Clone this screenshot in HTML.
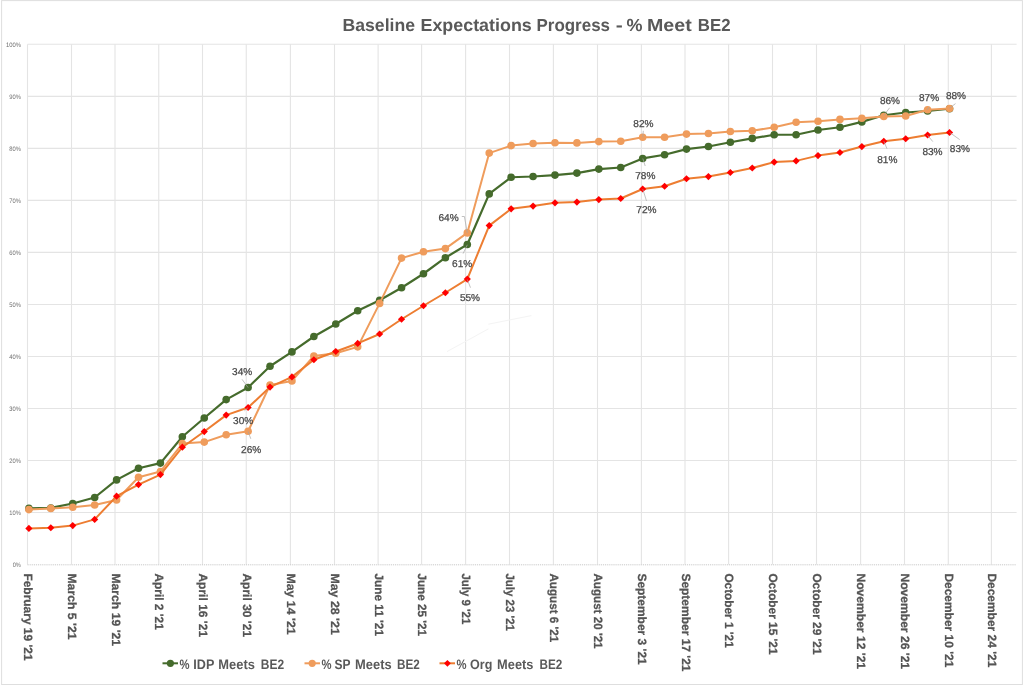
<!DOCTYPE html>
<html lang="en"><head><meta charset="utf-8"><title>Baseline Expectations Progress - % Meet BE2</title>
<style>html,body{margin:0;padding:0;background:#fff;}svg{display:block;}</style></head>
<body>
<svg width="1024" height="687" viewBox="0 0 1024 687" text-rendering="geometricPrecision">
<rect x="0" y="0" width="1024" height="687" fill="#fff"/>
<rect x="1.6" y="0.6" width="1020.8" height="683.9" fill="#fff" stroke="#dedede" stroke-width="1"/>
<line x1="27.5" y1="512.57" x2="1016.6" y2="512.57" stroke="#e4e4e4" stroke-width="1.1"/>
<line x1="27.5" y1="460.54" x2="1016.6" y2="460.54" stroke="#e4e4e4" stroke-width="1.1"/>
<line x1="27.5" y1="408.51" x2="1016.6" y2="408.51" stroke="#e4e4e4" stroke-width="1.1"/>
<line x1="27.5" y1="356.48" x2="1016.6" y2="356.48" stroke="#e4e4e4" stroke-width="1.1"/>
<line x1="27.5" y1="304.45" x2="1016.6" y2="304.45" stroke="#e4e4e4" stroke-width="1.1"/>
<line x1="27.5" y1="252.42" x2="1016.6" y2="252.42" stroke="#e4e4e4" stroke-width="1.1"/>
<line x1="27.5" y1="200.39" x2="1016.6" y2="200.39" stroke="#e4e4e4" stroke-width="1.1"/>
<line x1="27.5" y1="148.36" x2="1016.6" y2="148.36" stroke="#e4e4e4" stroke-width="1.1"/>
<line x1="27.5" y1="96.33" x2="1016.6" y2="96.33" stroke="#e4e4e4" stroke-width="1.1"/>
<line x1="27.5" y1="44.30" x2="1016.6" y2="44.30" stroke="#e4e4e4" stroke-width="1.1"/>
<line x1="27.50" y1="44.3" x2="27.50" y2="564.6" stroke="#e4e4e4" stroke-width="1.1"/>
<line x1="71.50" y1="44.3" x2="71.50" y2="564.6" stroke="#e4e4e4" stroke-width="1.1"/>
<line x1="115.00" y1="44.3" x2="115.00" y2="564.6" stroke="#e4e4e4" stroke-width="1.1"/>
<line x1="158.75" y1="44.3" x2="158.75" y2="564.6" stroke="#e4e4e4" stroke-width="1.1"/>
<line x1="202.50" y1="44.3" x2="202.50" y2="564.6" stroke="#e4e4e4" stroke-width="1.1"/>
<line x1="246.25" y1="44.3" x2="246.25" y2="564.6" stroke="#e4e4e4" stroke-width="1.1"/>
<line x1="290.40" y1="44.3" x2="290.40" y2="564.6" stroke="#e4e4e4" stroke-width="1.1"/>
<line x1="334.50" y1="44.3" x2="334.50" y2="564.6" stroke="#e4e4e4" stroke-width="1.1"/>
<line x1="378.10" y1="44.3" x2="378.10" y2="564.6" stroke="#e4e4e4" stroke-width="1.1"/>
<line x1="421.60" y1="44.3" x2="421.60" y2="564.6" stroke="#e4e4e4" stroke-width="1.1"/>
<line x1="465.60" y1="44.3" x2="465.60" y2="564.6" stroke="#e4e4e4" stroke-width="1.1"/>
<line x1="509.50" y1="44.3" x2="509.50" y2="564.6" stroke="#e4e4e4" stroke-width="1.1"/>
<line x1="553.40" y1="44.3" x2="553.40" y2="564.6" stroke="#e4e4e4" stroke-width="1.1"/>
<line x1="597.50" y1="44.3" x2="597.50" y2="564.6" stroke="#e4e4e4" stroke-width="1.1"/>
<line x1="641.40" y1="44.3" x2="641.40" y2="564.6" stroke="#e4e4e4" stroke-width="1.1"/>
<line x1="685.00" y1="44.3" x2="685.00" y2="564.6" stroke="#e4e4e4" stroke-width="1.1"/>
<line x1="728.60" y1="44.3" x2="728.60" y2="564.6" stroke="#e4e4e4" stroke-width="1.1"/>
<line x1="772.50" y1="44.3" x2="772.50" y2="564.6" stroke="#e4e4e4" stroke-width="1.1"/>
<line x1="816.50" y1="44.3" x2="816.50" y2="564.6" stroke="#e4e4e4" stroke-width="1.1"/>
<line x1="860.60" y1="44.3" x2="860.60" y2="564.6" stroke="#e4e4e4" stroke-width="1.1"/>
<line x1="904.50" y1="44.3" x2="904.50" y2="564.6" stroke="#e4e4e4" stroke-width="1.1"/>
<line x1="948.30" y1="44.3" x2="948.30" y2="564.6" stroke="#e4e4e4" stroke-width="1.1"/>
<line x1="991.40" y1="44.3" x2="991.40" y2="564.6" stroke="#e4e4e4" stroke-width="1.1"/>
<line x1="27.5" y1="564.8" x2="1016.6" y2="564.8" stroke="#c4c4c4" stroke-width="0.9" stroke-dasharray="1.2 0.9"/>
<path d="M447 351.6 L488.4 328.9 M488.4 324.2 L531.4 315.6" stroke="#f4f4f4" stroke-width="1" fill="none"/>
<text x="20.9" y="566.90" text-anchor="end" font-family="Liberation Sans, Arial, sans-serif" font-size="6.4" fill="#6e6e6e" textLength="8.2" lengthAdjust="spacingAndGlyphs">0%</text>
<text x="20.9" y="514.87" text-anchor="end" font-family="Liberation Sans, Arial, sans-serif" font-size="6.4" fill="#6e6e6e" textLength="11.6" lengthAdjust="spacingAndGlyphs">10%</text>
<text x="20.9" y="462.84" text-anchor="end" font-family="Liberation Sans, Arial, sans-serif" font-size="6.4" fill="#6e6e6e" textLength="11.6" lengthAdjust="spacingAndGlyphs">20%</text>
<text x="20.9" y="410.81" text-anchor="end" font-family="Liberation Sans, Arial, sans-serif" font-size="6.4" fill="#6e6e6e" textLength="11.6" lengthAdjust="spacingAndGlyphs">30%</text>
<text x="20.9" y="358.78" text-anchor="end" font-family="Liberation Sans, Arial, sans-serif" font-size="6.4" fill="#6e6e6e" textLength="11.6" lengthAdjust="spacingAndGlyphs">40%</text>
<text x="20.9" y="306.75" text-anchor="end" font-family="Liberation Sans, Arial, sans-serif" font-size="6.4" fill="#6e6e6e" textLength="11.6" lengthAdjust="spacingAndGlyphs">50%</text>
<text x="20.9" y="254.72" text-anchor="end" font-family="Liberation Sans, Arial, sans-serif" font-size="6.4" fill="#6e6e6e" textLength="11.6" lengthAdjust="spacingAndGlyphs">60%</text>
<text x="20.9" y="202.69" text-anchor="end" font-family="Liberation Sans, Arial, sans-serif" font-size="6.4" fill="#6e6e6e" textLength="11.6" lengthAdjust="spacingAndGlyphs">70%</text>
<text x="20.9" y="150.66" text-anchor="end" font-family="Liberation Sans, Arial, sans-serif" font-size="6.4" fill="#6e6e6e" textLength="11.6" lengthAdjust="spacingAndGlyphs">80%</text>
<text x="20.9" y="98.63" text-anchor="end" font-family="Liberation Sans, Arial, sans-serif" font-size="6.4" fill="#6e6e6e" textLength="11.6" lengthAdjust="spacingAndGlyphs">90%</text>
<text x="20.9" y="46.60" text-anchor="end" font-family="Liberation Sans, Arial, sans-serif" font-size="6.4" fill="#6e6e6e" textLength="15" lengthAdjust="spacingAndGlyphs">100%</text>
<text transform="translate(24.00,573.4) rotate(90)" font-family="Liberation Sans, Arial, sans-serif" font-weight="bold" font-size="12" fill="#545454" stroke="#545454" stroke-width="0.25" textLength="87.2" lengthAdjust="spacingAndGlyphs">February 19 '21</text>
<text transform="translate(68.00,573.4) rotate(90)" font-family="Liberation Sans, Arial, sans-serif" font-weight="bold" font-size="12" fill="#545454" stroke="#545454" stroke-width="0.25" textLength="66.1" lengthAdjust="spacingAndGlyphs">March 5 '21</text>
<text transform="translate(111.50,573.4) rotate(90)" font-family="Liberation Sans, Arial, sans-serif" font-weight="bold" font-size="12" fill="#545454" stroke="#545454" stroke-width="0.25" textLength="72.7" lengthAdjust="spacingAndGlyphs">March 19 '21</text>
<text transform="translate(155.25,573.4) rotate(90)" font-family="Liberation Sans, Arial, sans-serif" font-weight="bold" font-size="12" fill="#545454" stroke="#545454" stroke-width="0.25" textLength="56.4" lengthAdjust="spacingAndGlyphs">April 2 '21</text>
<text transform="translate(199.00,573.4) rotate(90)" font-family="Liberation Sans, Arial, sans-serif" font-weight="bold" font-size="12" fill="#545454" stroke="#545454" stroke-width="0.25" textLength="63.7" lengthAdjust="spacingAndGlyphs">April 16 '21</text>
<text transform="translate(242.75,573.4) rotate(90)" font-family="Liberation Sans, Arial, sans-serif" font-weight="bold" font-size="12" fill="#545454" stroke="#545454" stroke-width="0.25" textLength="63.7" lengthAdjust="spacingAndGlyphs">April 30 '21</text>
<text transform="translate(286.90,573.4) rotate(90)" font-family="Liberation Sans, Arial, sans-serif" font-weight="bold" font-size="12" fill="#545454" stroke="#545454" stroke-width="0.25" textLength="61.3" lengthAdjust="spacingAndGlyphs">May 14 '21</text>
<text transform="translate(331.00,573.4) rotate(90)" font-family="Liberation Sans, Arial, sans-serif" font-weight="bold" font-size="12" fill="#545454" stroke="#545454" stroke-width="0.25" textLength="61.4" lengthAdjust="spacingAndGlyphs">May 28 '21</text>
<text transform="translate(374.60,573.4) rotate(90)" font-family="Liberation Sans, Arial, sans-serif" font-weight="bold" font-size="12" fill="#545454" stroke="#545454" stroke-width="0.25" textLength="62.6" lengthAdjust="spacingAndGlyphs">June 11 '21</text>
<text transform="translate(418.10,573.4) rotate(90)" font-family="Liberation Sans, Arial, sans-serif" font-weight="bold" font-size="12" fill="#545454" stroke="#545454" stroke-width="0.25" textLength="62.6" lengthAdjust="spacingAndGlyphs">June 25 '21</text>
<text transform="translate(462.10,573.4) rotate(90)" font-family="Liberation Sans, Arial, sans-serif" font-weight="bold" font-size="12" fill="#545454" stroke="#545454" stroke-width="0.25" textLength="50.9" lengthAdjust="spacingAndGlyphs">July 9 '21</text>
<text transform="translate(506.00,573.4) rotate(90)" font-family="Liberation Sans, Arial, sans-serif" font-weight="bold" font-size="12" fill="#545454" stroke="#545454" stroke-width="0.25" textLength="57.6" lengthAdjust="spacingAndGlyphs">July 23 '21</text>
<text transform="translate(549.90,573.4) rotate(90)" font-family="Liberation Sans, Arial, sans-serif" font-weight="bold" font-size="12" fill="#545454" stroke="#545454" stroke-width="0.25" textLength="68.8" lengthAdjust="spacingAndGlyphs">August 6 '21</text>
<text transform="translate(594.00,573.4) rotate(90)" font-family="Liberation Sans, Arial, sans-serif" font-weight="bold" font-size="12" fill="#545454" stroke="#545454" stroke-width="0.25" textLength="75.2" lengthAdjust="spacingAndGlyphs">August 20 '21</text>
<text transform="translate(637.90,573.4) rotate(90)" font-family="Liberation Sans, Arial, sans-serif" font-weight="bold" font-size="12" fill="#545454" stroke="#545454" stroke-width="0.25" textLength="91.3" lengthAdjust="spacingAndGlyphs">September 3 '21</text>
<text transform="translate(681.50,573.4) rotate(90)" font-family="Liberation Sans, Arial, sans-serif" font-weight="bold" font-size="12" fill="#545454" stroke="#545454" stroke-width="0.25" textLength="98.1" lengthAdjust="spacingAndGlyphs">September 17 '21</text>
<text transform="translate(725.10,573.4) rotate(90)" font-family="Liberation Sans, Arial, sans-serif" font-weight="bold" font-size="12" fill="#545454" stroke="#545454" stroke-width="0.25" textLength="74.3" lengthAdjust="spacingAndGlyphs">October 1 '21</text>
<text transform="translate(769.00,573.4) rotate(90)" font-family="Liberation Sans, Arial, sans-serif" font-weight="bold" font-size="12" fill="#545454" stroke="#545454" stroke-width="0.25" textLength="81.1" lengthAdjust="spacingAndGlyphs">October 15 '21</text>
<text transform="translate(813.00,573.4) rotate(90)" font-family="Liberation Sans, Arial, sans-serif" font-weight="bold" font-size="12" fill="#545454" stroke="#545454" stroke-width="0.25" textLength="81.1" lengthAdjust="spacingAndGlyphs">October 29 '21</text>
<text transform="translate(857.10,573.4) rotate(90)" font-family="Liberation Sans, Arial, sans-serif" font-weight="bold" font-size="12" fill="#545454" stroke="#545454" stroke-width="0.25" textLength="95.7" lengthAdjust="spacingAndGlyphs">November 12 '21</text>
<text transform="translate(901.00,573.4) rotate(90)" font-family="Liberation Sans, Arial, sans-serif" font-weight="bold" font-size="12" fill="#545454" stroke="#545454" stroke-width="0.25" textLength="95.7" lengthAdjust="spacingAndGlyphs">November 26 '21</text>
<text transform="translate(944.80,573.4) rotate(90)" font-family="Liberation Sans, Arial, sans-serif" font-weight="bold" font-size="12" fill="#545454" stroke="#545454" stroke-width="0.25" textLength="93.9" lengthAdjust="spacingAndGlyphs">December 10 '21</text>
<text transform="translate(987.90,573.4) rotate(90)" font-family="Liberation Sans, Arial, sans-serif" font-weight="bold" font-size="12" fill="#545454" stroke="#545454" stroke-width="0.25" textLength="93.9" lengthAdjust="spacingAndGlyphs">December 24 '21</text>
<text y="30.75" font-family="Liberation Sans, Arial, sans-serif" font-weight="bold" font-size="17.5" fill="#595959"><tspan x="342.5" textLength="72.5" lengthAdjust="spacingAndGlyphs">Baseline</tspan> <tspan x="420.5" textLength="111.25" lengthAdjust="spacingAndGlyphs">Expectations</tspan> <tspan x="536.5" textLength="73.5" lengthAdjust="spacingAndGlyphs">Progress</tspan> <tspan x="615.8" textLength="7.0" lengthAdjust="spacingAndGlyphs">-</tspan> <tspan x="626.5" textLength="16" lengthAdjust="spacingAndGlyphs">%</tspan> <tspan x="647.0" textLength="44.75" lengthAdjust="spacingAndGlyphs">Meet</tspan> <tspan x="697.8" textLength="32.700000000000045" lengthAdjust="spacingAndGlyphs">BE2</tspan></text>
<polyline points="28.90,508.40 50.82,507.95 72.74,503.50 94.66,497.50 116.58,479.90 138.50,468.30 160.42,463.10 182.34,436.75 204.26,418.00 226.18,399.60 248.10,387.50 270.02,366.25 291.94,351.90 313.86,336.50 335.78,324.05 357.70,310.80 379.62,300.30 401.54,287.75 423.46,273.75 445.38,257.70 467.30,244.45 489.22,193.90 511.14,177.25 533.06,176.50 554.98,175.10 576.90,173.10 598.82,169.10 620.74,167.50 642.66,158.45 664.58,154.75 686.50,149.10 708.42,146.50 730.34,142.25 752.26,138.40 774.18,134.75 796.10,134.75 818.02,130.00 839.94,127.25 861.86,121.90 883.78,115.25 905.70,112.50 927.62,111.00 949.54,108.75" fill="none" stroke="#456b2c" stroke-width="2.2" stroke-linejoin="round" stroke-linecap="round"/>
<circle cx="28.90" cy="508.40" r="3.8" fill="#456b2c"/><circle cx="50.82" cy="507.95" r="3.8" fill="#456b2c"/><circle cx="72.74" cy="503.50" r="3.8" fill="#456b2c"/><circle cx="94.66" cy="497.50" r="3.8" fill="#456b2c"/><circle cx="116.58" cy="479.90" r="3.8" fill="#456b2c"/><circle cx="138.50" cy="468.30" r="3.8" fill="#456b2c"/><circle cx="160.42" cy="463.10" r="3.8" fill="#456b2c"/><circle cx="182.34" cy="436.75" r="3.8" fill="#456b2c"/><circle cx="204.26" cy="418.00" r="3.8" fill="#456b2c"/><circle cx="226.18" cy="399.60" r="3.8" fill="#456b2c"/><circle cx="248.10" cy="387.50" r="3.8" fill="#456b2c"/><circle cx="270.02" cy="366.25" r="3.8" fill="#456b2c"/><circle cx="291.94" cy="351.90" r="3.8" fill="#456b2c"/><circle cx="313.86" cy="336.50" r="3.8" fill="#456b2c"/><circle cx="335.78" cy="324.05" r="3.8" fill="#456b2c"/><circle cx="357.70" cy="310.80" r="3.8" fill="#456b2c"/><circle cx="379.62" cy="300.30" r="3.8" fill="#456b2c"/><circle cx="401.54" cy="287.75" r="3.8" fill="#456b2c"/><circle cx="423.46" cy="273.75" r="3.8" fill="#456b2c"/><circle cx="445.38" cy="257.70" r="3.8" fill="#456b2c"/><circle cx="467.30" cy="244.45" r="3.8" fill="#456b2c"/><circle cx="489.22" cy="193.90" r="3.8" fill="#456b2c"/><circle cx="511.14" cy="177.25" r="3.8" fill="#456b2c"/><circle cx="533.06" cy="176.50" r="3.8" fill="#456b2c"/><circle cx="554.98" cy="175.10" r="3.8" fill="#456b2c"/><circle cx="576.90" cy="173.10" r="3.8" fill="#456b2c"/><circle cx="598.82" cy="169.10" r="3.8" fill="#456b2c"/><circle cx="620.74" cy="167.50" r="3.8" fill="#456b2c"/><circle cx="642.66" cy="158.45" r="3.8" fill="#456b2c"/><circle cx="664.58" cy="154.75" r="3.8" fill="#456b2c"/><circle cx="686.50" cy="149.10" r="3.8" fill="#456b2c"/><circle cx="708.42" cy="146.50" r="3.8" fill="#456b2c"/><circle cx="730.34" cy="142.25" r="3.8" fill="#456b2c"/><circle cx="752.26" cy="138.40" r="3.8" fill="#456b2c"/><circle cx="774.18" cy="134.75" r="3.8" fill="#456b2c"/><circle cx="796.10" cy="134.75" r="3.8" fill="#456b2c"/><circle cx="818.02" cy="130.00" r="3.8" fill="#456b2c"/><circle cx="839.94" cy="127.25" r="3.8" fill="#456b2c"/><circle cx="861.86" cy="121.90" r="3.8" fill="#456b2c"/><circle cx="883.78" cy="115.25" r="3.8" fill="#456b2c"/><circle cx="905.70" cy="112.50" r="3.8" fill="#456b2c"/><circle cx="927.62" cy="111.00" r="3.8" fill="#456b2c"/><circle cx="949.54" cy="108.75" r="3.8" fill="#456b2c"/>
<polyline points="28.90,509.60 50.82,508.40 72.74,507.25 94.66,505.00 116.58,500.00 138.50,477.20 160.42,471.50 182.34,443.60 204.26,442.10 226.18,434.75 248.10,431.25 270.02,385.00 291.94,380.90 313.86,356.00 335.78,353.20 357.70,346.85 379.62,303.40 401.54,258.10 423.46,251.75 445.38,248.60 467.30,232.90 489.22,153.10 511.14,145.60 533.06,143.50 554.98,142.75 576.90,142.90 598.82,141.60 620.74,141.25 642.66,137.25 664.58,137.25 686.50,134.10 708.42,133.50 730.34,131.50 752.26,130.75 774.18,127.25 796.10,122.25 818.02,121.25 839.94,119.40 861.86,118.25 883.78,116.50 905.70,116.00 927.62,109.75 949.54,108.50" fill="none" stroke="#ef9c5c" stroke-width="2.0" stroke-linejoin="round" stroke-linecap="round"/>
<circle cx="28.90" cy="509.60" r="3.8" fill="#ef9c5c"/><circle cx="50.82" cy="508.40" r="3.8" fill="#ef9c5c"/><circle cx="72.74" cy="507.25" r="3.8" fill="#ef9c5c"/><circle cx="94.66" cy="505.00" r="3.8" fill="#ef9c5c"/><circle cx="116.58" cy="500.00" r="3.8" fill="#ef9c5c"/><circle cx="138.50" cy="477.20" r="3.8" fill="#ef9c5c"/><circle cx="160.42" cy="471.50" r="3.8" fill="#ef9c5c"/><circle cx="182.34" cy="443.60" r="3.8" fill="#ef9c5c"/><circle cx="204.26" cy="442.10" r="3.8" fill="#ef9c5c"/><circle cx="226.18" cy="434.75" r="3.8" fill="#ef9c5c"/><circle cx="248.10" cy="431.25" r="3.8" fill="#ef9c5c"/><circle cx="270.02" cy="385.00" r="3.8" fill="#ef9c5c"/><circle cx="291.94" cy="380.90" r="3.8" fill="#ef9c5c"/><circle cx="313.86" cy="356.00" r="3.8" fill="#ef9c5c"/><circle cx="335.78" cy="353.20" r="3.8" fill="#ef9c5c"/><circle cx="357.70" cy="346.85" r="3.8" fill="#ef9c5c"/><circle cx="379.62" cy="303.40" r="3.8" fill="#ef9c5c"/><circle cx="401.54" cy="258.10" r="3.8" fill="#ef9c5c"/><circle cx="423.46" cy="251.75" r="3.8" fill="#ef9c5c"/><circle cx="445.38" cy="248.60" r="3.8" fill="#ef9c5c"/><circle cx="467.30" cy="232.90" r="3.8" fill="#ef9c5c"/><circle cx="489.22" cy="153.10" r="3.8" fill="#ef9c5c"/><circle cx="511.14" cy="145.60" r="3.8" fill="#ef9c5c"/><circle cx="533.06" cy="143.50" r="3.8" fill="#ef9c5c"/><circle cx="554.98" cy="142.75" r="3.8" fill="#ef9c5c"/><circle cx="576.90" cy="142.90" r="3.8" fill="#ef9c5c"/><circle cx="598.82" cy="141.60" r="3.8" fill="#ef9c5c"/><circle cx="620.74" cy="141.25" r="3.8" fill="#ef9c5c"/><circle cx="642.66" cy="137.25" r="3.8" fill="#ef9c5c"/><circle cx="664.58" cy="137.25" r="3.8" fill="#ef9c5c"/><circle cx="686.50" cy="134.10" r="3.8" fill="#ef9c5c"/><circle cx="708.42" cy="133.50" r="3.8" fill="#ef9c5c"/><circle cx="730.34" cy="131.50" r="3.8" fill="#ef9c5c"/><circle cx="752.26" cy="130.75" r="3.8" fill="#ef9c5c"/><circle cx="774.18" cy="127.25" r="3.8" fill="#ef9c5c"/><circle cx="796.10" cy="122.25" r="3.8" fill="#ef9c5c"/><circle cx="818.02" cy="121.25" r="3.8" fill="#ef9c5c"/><circle cx="839.94" cy="119.40" r="3.8" fill="#ef9c5c"/><circle cx="861.86" cy="118.25" r="3.8" fill="#ef9c5c"/><circle cx="883.78" cy="116.50" r="3.8" fill="#ef9c5c"/><circle cx="905.70" cy="116.00" r="3.8" fill="#ef9c5c"/><circle cx="927.62" cy="109.75" r="3.8" fill="#ef9c5c"/><circle cx="949.54" cy="108.50" r="3.8" fill="#ef9c5c"/>
<polyline points="28.90,528.40 50.82,527.75 72.74,525.60 94.66,519.40 116.58,496.20 138.50,484.60 160.42,474.60 182.34,447.20 204.26,431.55 226.18,415.10 248.10,407.50 270.02,387.10 291.94,376.90 313.86,359.75 335.78,351.50 357.70,343.45 379.62,334.00 401.54,319.25 423.46,305.75 445.38,292.75 467.30,279.10 489.22,225.60 511.14,208.80 533.06,206.10 554.98,202.80 576.90,202.10 598.82,199.60 620.74,198.50 642.66,189.00 664.58,186.25 686.50,178.75 708.42,176.60 730.34,172.50 752.26,168.00 774.18,162.10 796.10,160.90 818.02,155.60 839.94,152.50 861.86,146.55 883.78,141.25 905.70,138.75 927.62,135.00 949.54,132.50" fill="none" stroke="#ed7d31" stroke-width="2.0" stroke-linejoin="round" stroke-linecap="round"/>
<path d="M25.30 528.40 L28.90 524.80 L32.50 528.40 L28.90 532.00 Z" fill="#ff0000"/><path d="M47.22 527.75 L50.82 524.15 L54.42 527.75 L50.82 531.35 Z" fill="#ff0000"/><path d="M69.14 525.60 L72.74 522.00 L76.34 525.60 L72.74 529.20 Z" fill="#ff0000"/><path d="M91.06 519.40 L94.66 515.80 L98.26 519.40 L94.66 523.00 Z" fill="#ff0000"/><path d="M112.98 496.20 L116.58 492.60 L120.18 496.20 L116.58 499.80 Z" fill="#ff0000"/><path d="M134.90 484.60 L138.50 481.00 L142.10 484.60 L138.50 488.20 Z" fill="#ff0000"/><path d="M156.82 474.60 L160.42 471.00 L164.02 474.60 L160.42 478.20 Z" fill="#ff0000"/><path d="M178.74 447.20 L182.34 443.60 L185.94 447.20 L182.34 450.80 Z" fill="#ff0000"/><path d="M200.66 431.55 L204.26 427.95 L207.86 431.55 L204.26 435.15 Z" fill="#ff0000"/><path d="M222.58 415.10 L226.18 411.50 L229.78 415.10 L226.18 418.70 Z" fill="#ff0000"/><path d="M244.50 407.50 L248.10 403.90 L251.70 407.50 L248.10 411.10 Z" fill="#ff0000"/><path d="M266.42 387.10 L270.02 383.50 L273.62 387.10 L270.02 390.70 Z" fill="#ff0000"/><path d="M288.34 376.90 L291.94 373.30 L295.54 376.90 L291.94 380.50 Z" fill="#ff0000"/><path d="M310.26 359.75 L313.86 356.15 L317.46 359.75 L313.86 363.35 Z" fill="#ff0000"/><path d="M332.18 351.50 L335.78 347.90 L339.38 351.50 L335.78 355.10 Z" fill="#ff0000"/><path d="M354.10 343.45 L357.70 339.85 L361.30 343.45 L357.70 347.05 Z" fill="#ff0000"/><path d="M376.02 334.00 L379.62 330.40 L383.22 334.00 L379.62 337.60 Z" fill="#ff0000"/><path d="M397.94 319.25 L401.54 315.65 L405.14 319.25 L401.54 322.85 Z" fill="#ff0000"/><path d="M419.86 305.75 L423.46 302.15 L427.06 305.75 L423.46 309.35 Z" fill="#ff0000"/><path d="M441.78 292.75 L445.38 289.15 L448.98 292.75 L445.38 296.35 Z" fill="#ff0000"/><path d="M463.70 279.10 L467.30 275.50 L470.90 279.10 L467.30 282.70 Z" fill="#ff0000"/><path d="M485.62 225.60 L489.22 222.00 L492.82 225.60 L489.22 229.20 Z" fill="#ff0000"/><path d="M507.54 208.80 L511.14 205.20 L514.74 208.80 L511.14 212.40 Z" fill="#ff0000"/><path d="M529.46 206.10 L533.06 202.50 L536.66 206.10 L533.06 209.70 Z" fill="#ff0000"/><path d="M551.38 202.80 L554.98 199.20 L558.58 202.80 L554.98 206.40 Z" fill="#ff0000"/><path d="M573.30 202.10 L576.90 198.50 L580.50 202.10 L576.90 205.70 Z" fill="#ff0000"/><path d="M595.22 199.60 L598.82 196.00 L602.42 199.60 L598.82 203.20 Z" fill="#ff0000"/><path d="M617.14 198.50 L620.74 194.90 L624.34 198.50 L620.74 202.10 Z" fill="#ff0000"/><path d="M639.06 189.00 L642.66 185.40 L646.26 189.00 L642.66 192.60 Z" fill="#ff0000"/><path d="M660.98 186.25 L664.58 182.65 L668.18 186.25 L664.58 189.85 Z" fill="#ff0000"/><path d="M682.90 178.75 L686.50 175.15 L690.10 178.75 L686.50 182.35 Z" fill="#ff0000"/><path d="M704.82 176.60 L708.42 173.00 L712.02 176.60 L708.42 180.20 Z" fill="#ff0000"/><path d="M726.74 172.50 L730.34 168.90 L733.94 172.50 L730.34 176.10 Z" fill="#ff0000"/><path d="M748.66 168.00 L752.26 164.40 L755.86 168.00 L752.26 171.60 Z" fill="#ff0000"/><path d="M770.58 162.10 L774.18 158.50 L777.78 162.10 L774.18 165.70 Z" fill="#ff0000"/><path d="M792.50 160.90 L796.10 157.30 L799.70 160.90 L796.10 164.50 Z" fill="#ff0000"/><path d="M814.42 155.60 L818.02 152.00 L821.62 155.60 L818.02 159.20 Z" fill="#ff0000"/><path d="M836.34 152.50 L839.94 148.90 L843.54 152.50 L839.94 156.10 Z" fill="#ff0000"/><path d="M858.26 146.55 L861.86 142.95 L865.46 146.55 L861.86 150.15 Z" fill="#ff0000"/><path d="M880.18 141.25 L883.78 137.65 L887.38 141.25 L883.78 144.85 Z" fill="#ff0000"/><path d="M902.10 138.75 L905.70 135.15 L909.30 138.75 L905.70 142.35 Z" fill="#ff0000"/><path d="M924.02 135.00 L927.62 131.40 L931.22 135.00 L927.62 138.60 Z" fill="#ff0000"/><path d="M945.94 132.50 L949.54 128.90 L953.14 132.50 L949.54 136.10 Z" fill="#ff0000"/>
<line x1="242" y1="379.3" x2="248.1" y2="387.6" stroke="#a6a6a6" stroke-width="0.7"/>
<line x1="248.1" y1="407.6" x2="244.4" y2="410.8" stroke="#a6a6a6" stroke-width="0.7"/>
<line x1="248.1" y1="431.6" x2="250.8" y2="438.8" stroke="#a6a6a6" stroke-width="0.7"/>
<line x1="467.3" y1="244.8" x2="463.1" y2="253.6" stroke="#a6a6a6" stroke-width="0.7"/>
<line x1="467.3" y1="279.5" x2="470.5" y2="287.7" stroke="#a6a6a6" stroke-width="0.7"/>
<line x1="643.3" y1="130.8" x2="642.8" y2="137.2" stroke="#a6a6a6" stroke-width="0.7"/>
<line x1="642.8" y1="158.5" x2="645.2" y2="166" stroke="#a6a6a6" stroke-width="0.7"/>
<line x1="642.8" y1="189.2" x2="646.5" y2="200.9" stroke="#a6a6a6" stroke-width="0.7"/>
<line x1="889.6" y1="107.8" x2="883.7" y2="115.6" stroke="#a6a6a6" stroke-width="0.7"/>
<line x1="928.9" y1="106.9" x2="927.3" y2="109.9" stroke="#a6a6a6" stroke-width="0.7"/>
<line x1="955.5" y1="103.6" x2="949.5" y2="108.2" stroke="#a6a6a6" stroke-width="0.7"/>
<line x1="883.9" y1="141.3" x2="887" y2="148.8" stroke="#a6a6a6" stroke-width="0.7"/>
<line x1="927.3" y1="135" x2="932.8" y2="141.6" stroke="#a6a6a6" stroke-width="0.7"/>
<line x1="949.5" y1="132.4" x2="959.7" y2="139.6" stroke="#a6a6a6" stroke-width="0.7"/>
<polyline points="461.8,216.5 464.4,216.5 467.3,232.8" fill="none" stroke="#a6a6a6" stroke-width="0.7"/>
<text x="232.10" y="375.00" font-family="Liberation Sans, Arial, sans-serif" font-size="10" fill="#484848" stroke="#484848" stroke-width="0.25" textLength="20.2" lengthAdjust="spacingAndGlyphs">34%</text>
<text x="233.10" y="423.60" font-family="Liberation Sans, Arial, sans-serif" font-size="10" fill="#484848" stroke="#484848" stroke-width="0.25" textLength="20.2" lengthAdjust="spacingAndGlyphs">30%</text>
<text x="241.10" y="452.80" font-family="Liberation Sans, Arial, sans-serif" font-size="10" fill="#484848" stroke="#484848" stroke-width="0.25" textLength="20.2" lengthAdjust="spacingAndGlyphs">26%</text>
<text x="438.50" y="221.20" font-family="Liberation Sans, Arial, sans-serif" font-size="10" fill="#484848" stroke="#484848" stroke-width="0.25" textLength="20.2" lengthAdjust="spacingAndGlyphs">64%</text>
<text x="452.10" y="267.00" font-family="Liberation Sans, Arial, sans-serif" font-size="10" fill="#484848" stroke="#484848" stroke-width="0.25" textLength="20.2" lengthAdjust="spacingAndGlyphs">61%</text>
<text x="459.90" y="300.60" font-family="Liberation Sans, Arial, sans-serif" font-size="10" fill="#484848" stroke="#484848" stroke-width="0.25" textLength="20.2" lengthAdjust="spacingAndGlyphs">55%</text>
<text x="633.30" y="126.80" font-family="Liberation Sans, Arial, sans-serif" font-size="10" fill="#484848" stroke="#484848" stroke-width="0.25" textLength="20.2" lengthAdjust="spacingAndGlyphs">82%</text>
<text x="635.20" y="179.20" font-family="Liberation Sans, Arial, sans-serif" font-size="10" fill="#484848" stroke="#484848" stroke-width="0.25" textLength="20.2" lengthAdjust="spacingAndGlyphs">78%</text>
<text x="636.30" y="213.40" font-family="Liberation Sans, Arial, sans-serif" font-size="10" fill="#484848" stroke="#484848" stroke-width="0.25" textLength="20.2" lengthAdjust="spacingAndGlyphs">72%</text>
<text x="879.90" y="103.50" font-family="Liberation Sans, Arial, sans-serif" font-size="10" fill="#484848" stroke="#484848" stroke-width="0.25" textLength="20.2" lengthAdjust="spacingAndGlyphs">86%</text>
<text x="919.00" y="101.40" font-family="Liberation Sans, Arial, sans-serif" font-size="10" fill="#484848" stroke="#484848" stroke-width="0.25" textLength="20.2" lengthAdjust="spacingAndGlyphs">87%</text>
<text x="945.90" y="99.30" font-family="Liberation Sans, Arial, sans-serif" font-size="10" fill="#484848" stroke="#484848" stroke-width="0.25" textLength="20.2" lengthAdjust="spacingAndGlyphs">88%</text>
<text x="877.20" y="163.10" font-family="Liberation Sans, Arial, sans-serif" font-size="10" fill="#484848" stroke="#484848" stroke-width="0.25" textLength="20.2" lengthAdjust="spacingAndGlyphs">81%</text>
<text x="922.40" y="155.00" font-family="Liberation Sans, Arial, sans-serif" font-size="10" fill="#484848" stroke="#484848" stroke-width="0.25" textLength="20.2" lengthAdjust="spacingAndGlyphs">83%</text>
<text x="949.80" y="152.10" font-family="Liberation Sans, Arial, sans-serif" font-size="10" fill="#484848" stroke="#484848" stroke-width="0.25" textLength="20.2" lengthAdjust="spacingAndGlyphs">83%</text>
<line x1="162.5" y1="663.3" x2="178" y2="663.3" stroke="#456b2c" stroke-width="2"/><circle cx="170.4" cy="663.3" r="3.6" fill="#456b2c"/><text y="668.7" font-family="Liberation Sans, Arial, sans-serif" font-weight="bold" font-size="13.7" fill="#595959"><tspan x="179.6" textLength="10.05" lengthAdjust="spacingAndGlyphs">%</tspan> <tspan x="193.35" textLength="20.80" lengthAdjust="spacingAndGlyphs">IDP</tspan> <tspan x="218.35" textLength="36.55" lengthAdjust="spacingAndGlyphs">Meets</tspan> <tspan x="260.85" textLength="23.30" lengthAdjust="spacingAndGlyphs">BE2</tspan></text>
<line x1="304.5" y1="663.3" x2="320" y2="663.3" stroke="#ef9c5c" stroke-width="2"/><circle cx="312.2" cy="663.3" r="3.6" fill="#ef9c5c"/><text y="668.7" font-family="Liberation Sans, Arial, sans-serif" font-weight="bold" font-size="13.7" fill="#595959"><tspan x="321.6" textLength="10.05" lengthAdjust="spacingAndGlyphs">%</tspan> <tspan x="334.6" textLength="15.80" lengthAdjust="spacingAndGlyphs">SP</tspan> <tspan x="355.1" textLength="36.55" lengthAdjust="spacingAndGlyphs">Meets</tspan> <tspan x="397.1" textLength="22.80" lengthAdjust="spacingAndGlyphs">BE2</tspan></text>
<line x1="439.5" y1="663.3" x2="455" y2="663.3" stroke="#ed7d31" stroke-width="2"/><path d="M444.0 663.3 L447.4 659.9 L450.79999999999995 663.3 L447.4 666.6999999999999 Z" fill="#ff0000"/><text y="668.7" font-family="Liberation Sans, Arial, sans-serif" font-weight="bold" font-size="13.7" fill="#595959"><tspan x="456.6" textLength="10.05" lengthAdjust="spacingAndGlyphs">%</tspan> <tspan x="470.1" textLength="22.30" lengthAdjust="spacingAndGlyphs">Org</tspan> <tspan x="497.1" textLength="36.30" lengthAdjust="spacingAndGlyphs">Meets</tspan> <tspan x="539.6" textLength="22.80" lengthAdjust="spacingAndGlyphs">BE2</tspan></text>
</svg>
</body></html>
